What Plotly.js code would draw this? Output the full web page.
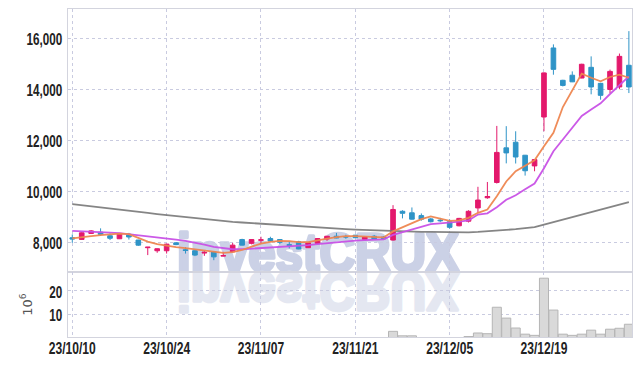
<!DOCTYPE html>
<html>
<head>
<meta charset="utf-8">
<script src="https://cdn.plot.ly/plotly-3.0.1.min.js"></script>
<style>
html,body{margin:0;padding:0;background:#fff;}
#chart{width:642px;height:366px;}
</style>
</head>
<body>
<div id="chart"></div>
<script>
// Trading days (yy/mm/dd)
var dates = [
 "23/10/10","23/10/11","23/10/12","23/10/13","23/10/16","23/10/17","23/10/18","23/10/19","23/10/20","23/10/23",
 "23/10/24","23/10/25","23/10/26","23/10/27","23/10/30","23/10/31","23/11/01","23/11/02","23/11/03","23/11/06",
 "23/11/07","23/11/08","23/11/09","23/11/10","23/11/13","23/11/14","23/11/15","23/11/16","23/11/17","23/11/20",
 "23/11/21","23/11/22","23/11/23","23/11/24","23/11/27","23/11/28","23/11/29","23/11/30","23/12/01","23/12/04",
 "23/12/05","23/12/06","23/12/07","23/12/08","23/12/11","23/12/12","23/12/13","23/12/14","23/12/15","23/12/18",
 "23/12/19","23/12/20","23/12/21","23/12/22","23/12/26","23/12/27","23/12/28","24/01/02","24/01/03","24/01/04"
];
var tickDates = ["23/10/10","23/10/24","23/11/07","23/11/21","23/12/05","23/12/19"];

var open = [8170,8105,8340,8390,8250,8130,8310,8080,7780,7660,
            7660,7970,7700,7660,7570,7610,7450,7620,8100,7950,
            8070,8140,8100,7900,8010,7780,7950,8120,8230,8220,
            8270,8110,8230,8200,8080,9210,9150,9040,8910,8860,
            8800,8640,8820,9340,9740,10340,11700,11920,11410,10990,
            12910,15620,14350,14550,14440,14860,14230,13990,14090,14940];
var high = [8300,8390,8470,8540,8340,8350,8360,8090,7810,7750,
            7930,8000,7800,7710,7660,7650,7620,7970,8130,8110,
            8210,8210,8110,8010,8050,7980,8150,8240,8360,8290,
            8290,8210,8280,8240,9450,9250,9360,9125,8950,8950,
            8890,8950,9250,10170,10360,12560,12550,12350,11420,11260,
            14660,15760,14370,14700,15000,15290,14250,14770,15400,16280];
var low  = [7970,8090,8330,8240,8080,8120,8100,7850,7490,7580,
            7550,7880,7550,7450,7460,7290,7440,7610,7870,7910,
            7950,8030,7920,7750,7720,7770,7940,8050,8150,8130,
            8160,8100,8120,8120,8060,8930,8880,8840,8770,8780,
            8520,8620,8770,9150,9700,10300,11090,11085,10610,10780,
            12350,14570,14110,14280,14430,13800,13590,13850,14000,13850];
var close= [8120,8365,8440,8300,8150,8340,8200,7880,7800,7740,
            7920,7900,7670,7490,7600,7420,7470,7880,7880,8100,
            8090,8040,7990,7870,7730,7970,8140,8230,8160,8200,
            8170,8200,8130,8130,9280,9130,8900,8900,8800,8840,
            8580,8930,9210,9650,9790,11520,11500,11340,10800,11240,
            14640,14780,14150,14290,14980,14090,13760,14700,15290,14090];

// Moving averages
var ma5 = [8145,8176,8235,8274,8314,8333,8314,8157,8020,7922,
           7855,7804,7765,7726,7686,7628,7580,7610,7690,7820,
           7940,8010,8050,8040,8000,8000,8078,8137,8196,8235,
           8235,8216,8196,8184,8420,8580,8740,8900,9010,8920,
           8835,8850,8950,9150,9280,9800,10380,10783,11000,11214,
           11760,12290,13300,13950,14613,14450,14310,14480,14570,14450];
var ma20 = [8443,8431,8412,8392,8372,8353,8314,8274,8235,8196,
            8145,8100,8050,7990,7900,7810,7750,7720,7720,7740,
            7760,7784,7804,7824,7843,7882,7922,7961,8000,8039,
            8059,8078,8098,8105,8280,8380,8490,8600,8705,8735,
            8757,8800,8850,9080,9130,9370,9660,9840,10070,10300,
            10900,11567,12026,12484,12951,13206,13449,13813,14158,14507];
var ma60 = [9490,9450,9405,9360,9320,9275,9230,9185,9145,9100,
            9060,9020,8980,8940,8900,8860,8820,8795,8770,8745,
            8725,8695,8665,8635,8608,8590,8570,8550,8530,8510,
            8490,8475,8460,8445,8431,8425,8415,8405,8400,8390,
            8385,8380,8385,8400,8420,8450,8480,8510,8545,8590,
            8690,8790,8880,8970,9070,9170,9270,9370,9470,9570];

// Volume in millions
var volume = [0,0,0,0,0,0,0,0,0,0,
              0,0,0,0,0,0,0,0,0,0,
              0,0,0,0,0,0,0,0,0,0,
              0,0,0,0,2.7,0.8,0.8,0,0,0,
              0,0,0.5,2.0,1.7,12.9,8.3,4.1,1.5,1.0,
              25.2,11.7,1.5,1.0,1.5,3.2,1.5,3.6,4.0,5.7];

var UP = '#e3196c', DOWN = '#2f94c7';
var TF = 16;
var tickFont = {family:'"Liberation Sans",Arial,sans-serif', size:TF, color:'#222', weight:'bold'};
var gridC = '#c9cbe0', lineC = '#d3d4de';

var data = [
  {type:'candlestick', x:dates, open:open, high:high, low:low, close:close, xaxis:'x', yaxis:'y',
   increasing:{line:{color:UP,width:1}, fillcolor:UP},
   decreasing:{line:{color:DOWN,width:1}, fillcolor:DOWN},
   whiskerwidth:0, hoverinfo:'skip'},
  {type:'scatter', mode:'lines', x:dates, y:ma60, line:{color:'rgba(120,120,120,0.9)', width:1.8}, hoverinfo:'skip'},
  {type:'scatter', mode:'lines', x:dates, y:ma20, line:{color:'rgba(200,80,230,0.95)', width:1.8}, hoverinfo:'skip'},
  {type:'scatter', mode:'lines', x:dates, y:ma5, line:{color:'rgba(238,134,80,0.95)', width:1.8}, hoverinfo:'skip'},
  {type:'bar', x:dates, y:volume, xaxis:'x', yaxis:'y2', marker:{color:'#d9d9d9', line:{color:'#b5b5b5', width:1}}, hoverinfo:'skip'}
];

var layout = {
  width:642, height:366,
  margin:{l:68, r:10, t:9, b:29},
  paper_bgcolor:'#ffffff', plot_bgcolor:'#ffffff',
  showlegend:false, bargap:0.04,
  xaxis:{type:'category', range:[-0.455, 59.33], anchor:'y2', tickmode:'array', tickvals:tickDates, ticktext:tickDates,
         showgrid:true, gridcolor:gridC, griddash:'dot', gridwidth:1,
         showline:true, linecolor:lineC, linewidth:1, mirror:'all', ticks:'', tickfont:tickFont,
         rangeslider:{visible:false}, fixedrange:true},
  yaxis:{domain:[0.198,1], range:[6824,17149], tickmode:'array', tickvals:[8000,10000,12000,14000,16000], tickformat:',d',
         showgrid:true, gridcolor:gridC, griddash:'dot', zeroline:false,
         showline:true, linecolor:lineC, mirror:'all', ticks:'', tickfont:tickFont, fixedrange:true},
  yaxis2:{domain:[0,0.198], range:[0.3,27.8], tickmode:'array', tickvals:[10,20],
          showgrid:true, gridcolor:gridC, griddash:'dot', zeroline:false,
          showline:true, linecolor:lineC, mirror:'all', ticks:'', tickfont:tickFont, fixedrange:true,
          title:{text:'10<sup>6</sup>', font:{family:'"DejaVu Sans",sans-serif', size:13, color:'#555'}, standoff:10}},
  annotations:[
    {xref:'paper', yref:'paper', x:0.5, y:0.5, text:'investCRUX', showarrow:false,
     font:{family:'"Liberation Sans",Arial,sans-serif', size:54, color:'#cbd1e6', weight:'bold'}},
    {xref:'paper', yref:'paper', x:0.5, y:0.5, text:'investCRUX', showarrow:false,
     font:{family:'"Liberation Sans",Arial,sans-serif', size:54, color:'#e4e7f1', weight:'bold'}}
  ]
};

Plotly.newPlot('chart', data, layout, {staticPlot:true, displayModeBar:false}).then(function(gd){
  var svgNS = 'http://www.w3.org/2000/svg';
  var svg = gd.querySelector('.main-svg');
  function toLocal(node, x, y) {
    var pt = svg.createSVGPoint(); pt.x = x; pt.y = y;
    return pt.matrixTransform(node.getScreenCTM().inverse());
  }
  // Watermark: behind the traces, heavy main text plus mirrored reflection
  var below = gd.querySelector('.main-svg .layer-below');
  var anns = gd.querySelectorAll('.infolayer .annotation');
  var fs = 54, left = 177, width = 282, base = 270.5;
  var colors = ['#cbd1e6', '#e4e7f1'];
  for (var k = 0; k < anns.length; k++) {
    var a = anns[k];
    var t = a.querySelector('text');
    var r = t.getBoundingClientRect();
    var sx = width / r.width;
    var sy = (k === 0) ? 1 : -1;
    var baselineY = r.bottom - 0.212 * fs;
    t.style.stroke = colors[k];
    t.style.strokeWidth = '3.5px';
    t.style.strokeLinejoin = 'round';
    var w = document.createElementNS(svgNS, 'g');
    var b = (k === 0) ? base : base + 3;
    w.setAttribute('transform', 'translate(' + (left - r.left * sx) + ',' + (b - baselineY * sy) + ') scale(' + sx + ',' + sy + ')');
    w.appendChild(a);
    (below || svg).appendChild(w);
  }
  // Condensed tick labels
  function condense(sel, sx, mode) {
    var nodes = gd.querySelectorAll(sel);
    for (var i = 0; i < nodes.length; i++) {
      var t = nodes[i];
      var r = t.getBoundingClientRect();
      if (!r.width) continue;
      var px, dx = 0, dy = 0;
      var baseline = r.bottom - 0.212 * TF;
      var mid = baseline - 0.358 * TF;
      if (mode === 'x') { px = (r.left + r.right) / 2; dy = 348.3 - mid; }
      else { px = r.right; dx = 62.3 - r.right; dy = 1.5; }
      var p = t.parentNode;
      var lp = toLocal(p, px, 0), lq = toLocal(p, px + dx, dy), l0 = toLocal(p, px, 0);
      var g = document.createElementNS(svgNS, 'g');
      g.setAttribute('transform', 'translate(' + (lq.x) + ',' + (lq.y - l0.y) + ') scale(' + sx + ',1) translate(' + (-lp.x) + ',0)');
      p.insertBefore(g, t);
      g.appendChild(t);
    }
  }
  condense('.xtick text', 0.755, 'x');
  condense('.ytick text', 0.73, 'y');
  condense('.y2tick text', 0.73, 'y');
});
</script>
</body>
</html>
